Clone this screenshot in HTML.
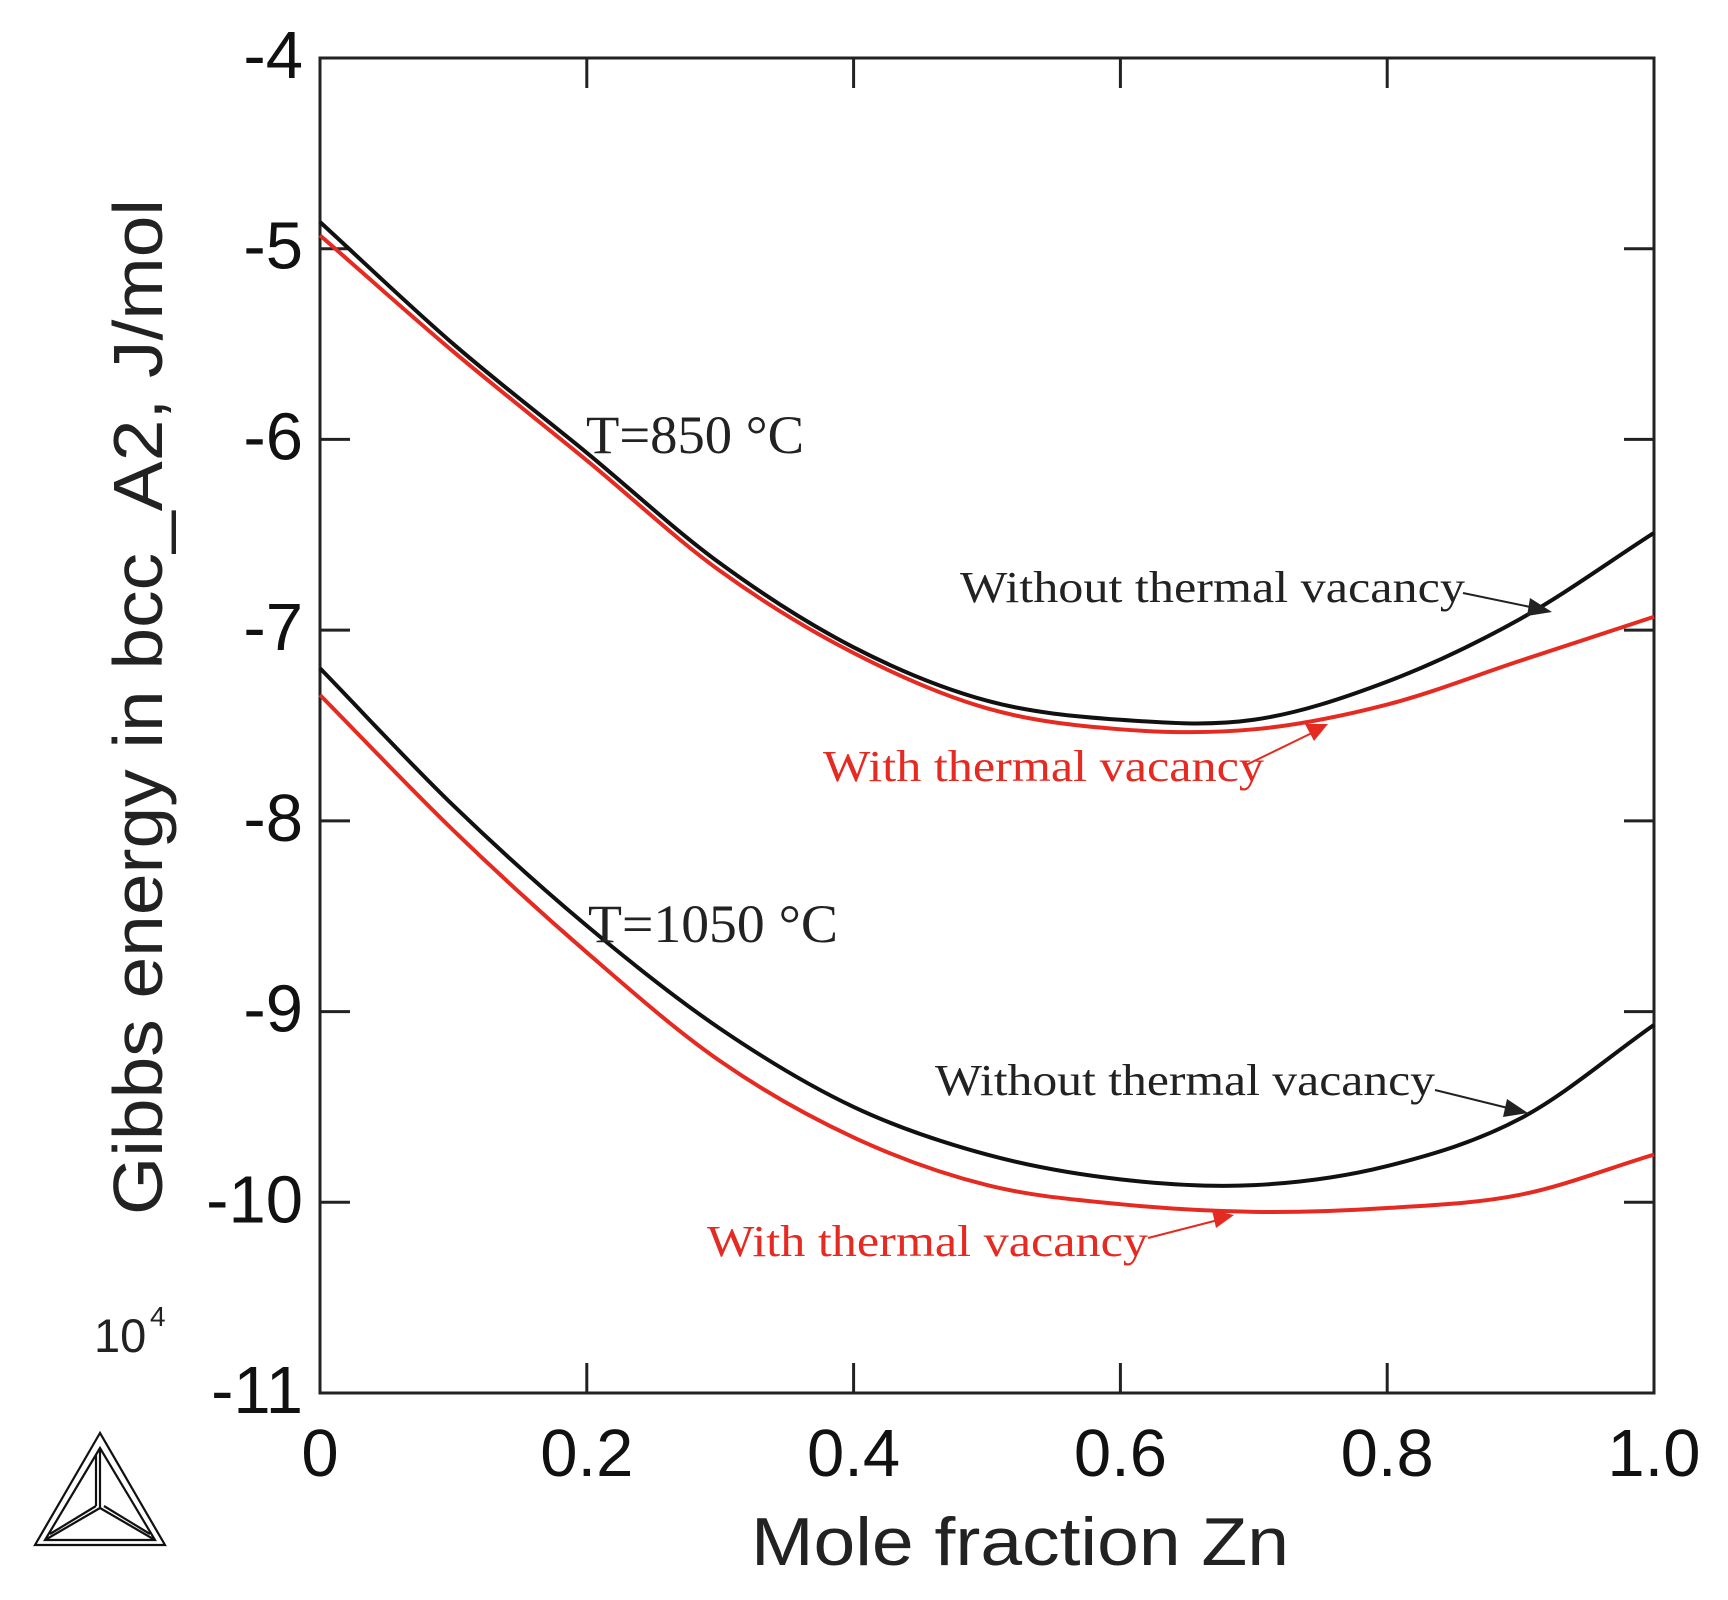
<!DOCTYPE html>
<html><head><meta charset="utf-8"><style>
html,body{margin:0;padding:0;background:#fff;}
svg{display:block;}
</style></head><body>
<svg id="chart" width="1728" height="1600" viewBox="0 0 1728 1600" xmlns="http://www.w3.org/2000/svg">
<g id="axes"></g>
<g id="series"></g>
<g id="annotations" font-family="'Liberation Serif', serif">
  <text x="586" y="453" font-size="54" textLength="218" lengthAdjust="spacingAndGlyphs" fill="#222">T=850 °C</text>
  <text x="588" y="942" font-size="54" textLength="250" lengthAdjust="spacingAndGlyphs" fill="#222">T=1050 °C</text>
  <text x="960" y="602" font-size="44" textLength="505" lengthAdjust="spacingAndGlyphs" fill="#222">Without thermal vacancy</text>
  <text x="823" y="781" font-size="44" textLength="441" lengthAdjust="spacingAndGlyphs" fill="#e52a22">With thermal vacancy</text>
  <text x="935" y="1095" font-size="44" textLength="500" lengthAdjust="spacingAndGlyphs" fill="#222">Without thermal vacancy</text>
  <text x="707" y="1256" font-size="44" textLength="441" lengthAdjust="spacingAndGlyphs" fill="#e52a22">With thermal vacancy</text>
  <line x1="1463" y1="593" x2="1540" y2="609" stroke="#222" stroke-width="2"/>
  <polygon points="1552,612 1530,598 1527,616" fill="#222"/>
  <line x1="1246" y1="765" x2="1318" y2="730" stroke="#e52a22" stroke-width="2"/>
  <polygon points="1328,724 1305,724 1314,741" fill="#e52a22"/>
  <line x1="1435" y1="1090" x2="1516" y2="1110" stroke="#222" stroke-width="2"/>
  <polygon points="1528,1113 1507,1099 1503,1117" fill="#222"/>
  <line x1="1148" y1="1238" x2="1222" y2="1219" stroke="#e52a22" stroke-width="2"/>
  <polygon points="1234,1215 1212,1210 1216,1228" fill="#e52a22"/>
</g>
<g fill="none" stroke="#111" stroke-width="2.2">
  <polygon points="100,1433 35,1545 165,1545"/>
  <polygon points="100,1448 45,1540 155,1540"/>
  <line x1="100" y1="1448" x2="100" y2="1508"/>
  <line x1="96" y1="1455" x2="96" y2="1506"/>
  <line x1="100" y1="1508" x2="45" y2="1540"/>
  <line x1="100" y1="1508" x2="155" y2="1540"/>
  <line x1="96" y1="1506" x2="50" y2="1534"/>
  <line x1="104" y1="1506" x2="150" y2="1534"/>
</g>
</svg>
<script>
const xTicks = [0, 0.2, 0.4, 0.6, 0.8, 1.0];
const xTickLabels = ["0", "0.2", "0.4", "0.6", "0.8", "1.0"];
const yTicks = [-4, -5, -6, -7, -8, -9, -10, -11];
const yTickLabels = ["-4", "-5", "-6", "-7", "-8", "-9", "-10", "-11"];
const xValues = [0, 0.1, 0.2, 0.3, 0.4, 0.5, 0.6, 0.7, 0.8, 0.9, 1.0];
const black850 = [-4.86, -5.50, -6.07, -6.65, -7.09, -7.37, -7.47, -7.47, -7.27, -6.94, -6.49];
const red850 = [-4.93, -5.54, -6.11, -6.69, -7.12, -7.41, -7.52, -7.52, -7.39, -7.16, -6.93];
const black1050 = [-7.20, -7.92, -8.55, -9.09, -9.50, -9.75, -9.88, -9.91, -9.81, -9.56, -9.07];
const red1050 = [-7.34, -8.05, -8.69, -9.26, -9.66, -9.91, -10.01, -10.05, -10.03, -9.96, -9.75];

const L = 320, R = 1654, T = 58, B = 1393;
const xScale = v => L + (v - 0) / (1 - 0) * (R - L);
const yScale = v => T + (-4 - v) / 7 * (B - T);
const NS = "http://www.w3.org/2000/svg";
const axes = document.getElementById('axes');
const series = document.getElementById('series');

function mk(tag, attrs, parent) {
  const el = document.createElementNS(NS, tag);
  for (const k in attrs) el.setAttribute(k, attrs[k]);
  parent.appendChild(el);
  return el;
}

const frame = mk('rect', {x: L, y: T, width: R - L, height: B - T, fill: 'none', stroke: '#222', 'stroke-width': 3}, axes);



xTicks.forEach((v, i) => {
  const x = xScale(v);
  const t1 = mk('line', {x1: x, y1: B, x2: x, y2: B - 30, stroke: '#222', 'stroke-width': 3}, axes);
  
  
  const t2 = mk('line', {x1: x, y1: T, x2: x, y2: T + 30, stroke: '#222', 'stroke-width': 3}, axes);
  
  
  const lb = mk('text', {x: x, y: 1476, 'text-anchor': 'middle', 'font-size': 67, 'font-family': "'Liberation Sans', sans-serif", fill: '#111'}, axes);
  lb.textContent = xTickLabels[i];
  
  
});

yTicks.forEach((v, i) => {
  const y = yScale(v);
  const t1 = mk('line', {x1: L, y1: y, x2: L + 30, y2: y, stroke: '#222', 'stroke-width': 3}, axes);
  
  
  const t2 = mk('line', {x1: R, y1: y, x2: R - 30, y2: y, stroke: '#222', 'stroke-width': 3}, axes);
  
  
  const lb = mk('text', {x: 303, y: y + 20, 'text-anchor': 'end', 'font-size': 67, 'font-family': "'Liberation Sans', sans-serif", fill: '#111'}, axes);
  lb.textContent = yTickLabels[i];
  
  
});

const xt = mk('text', {x: 751, y: 1565, 'font-size': 68, textLength: 538, lengthAdjust: 'spacingAndGlyphs', 'font-family': "'Liberation Sans', sans-serif", fill: '#222'}, axes);
xt.textContent = 'Mole fraction Zn';



const yt = mk('text', {x: 0, y: 0, 'font-size': 70, 'text-anchor': 'middle', textLength: 1016, lengthAdjust: 'spacingAndGlyphs', 'font-family': "'Liberation Sans', sans-serif", fill: '#222', transform: 'translate(162,707) rotate(-90)'}, axes);
yt.textContent = 'Gibbs energy in bcc_A2, J/mol';



const mult = mk('text', {x: 94, y: 1352, 'font-size': 47, 'font-family': "'Liberation Sans', sans-serif", fill: '#222'}, axes);
mult.textContent = '10';


const sup = mk('text', {x: 150, y: 1326, 'font-size': 28, 'font-family': "'Liberation Sans', sans-serif", fill: '#222'}, axes);
sup.textContent = '4';



function smoothPath(xs, ys) {
  const p = xs.map((x, i) => [xScale(x), yScale(ys[i])]);
  let d = 'M' + p[0][0] + ',' + p[0][1];
  for (let i = 0; i < p.length - 1; i++) {
    const p1 = p[i], p2 = p[i + 1];
    const p0 = i > 0 ? p[i - 1] : [2 * p1[0] - p2[0], 2 * p1[1] - p2[1]];
    const p3 = i + 2 < p.length ? p[i + 2] : [2 * p2[0] - p1[0], 2 * p2[1] - p1[1]];
    const c1x = p1[0] + (p2[0] - p0[0]) / 6, c1y = p1[1] + (p2[1] - p0[1]) / 6;
    const c2x = p2[0] - (p3[0] - p1[0]) / 6, c2y = p2[1] - (p3[1] - p1[1]) / 6;
    d += ' C' + c1x + ',' + c1y + ' ' + c2x + ',' + c2y + ' ' + p2[0] + ',' + p2[1];
  }
  return d;
}

const s1 = mk('path', {d: smoothPath(xValues, red850), fill: 'none', stroke: '#e52a22', 'stroke-width': 4}, series);


const s2 = mk('path', {d: smoothPath(xValues, black850), fill: 'none', stroke: '#111', 'stroke-width': 4}, series);


const s3 = mk('path', {d: smoothPath(xValues, red1050), fill: 'none', stroke: '#e52a22', 'stroke-width': 4}, series);


const s4 = mk('path', {d: smoothPath(xValues, black1050), fill: 'none', stroke: '#111', 'stroke-width': 4}, series);


</script>
</body></html>
